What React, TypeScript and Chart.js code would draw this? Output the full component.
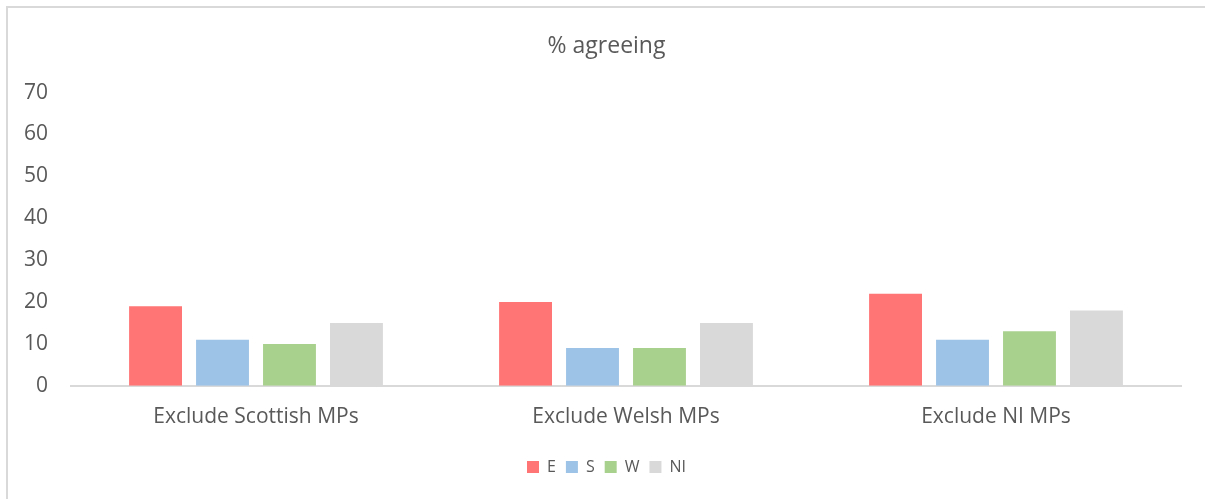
import React, { useEffect, useRef } from "react";
import { Chart, registerables } from "chart.js";

Chart.register(...registerables);

const categories = ["Exclude Scottish MPs", "Exclude Welsh MPs", "Exclude NI MPs"];
const seriesNames = ["E", "S", "W", "NI"];
const valuesE = [19, 20, 22];
const valuesS = [11, 9, 11];
const valuesW = [10, 9, 13];
const valuesNI = [15, 15, 18];
const colors = ["#FF7575", "#9DC3E6", "#A9D18E", "#D9D9D9"];
const titleText = "% agreeing";

const frame = {
  id: "frame",
  afterLayout(chart: any) {
    const y = chart.scales.y;
    if (y) {
      y.left = 0;
      y.width = y.right;
    }
  },
  beforeDraw(chart: any) {
    const { ctx, width, height } = chart;
    ctx.save();
    ctx.fillStyle = "#FFFFFF";
    ctx.fillRect(0, 0, width, height);
    ctx.fillStyle = "#D9D9D9";
    ctx.fillRect(0, 0, width, 2);
    ctx.fillRect(0, 0, 2, height);
    ctx.restore();
  },
};

export default function App() {
  const ref = useRef<HTMLCanvasElement | null>(null);
  useEffect(() => {
    if (!ref.current) return;
    const font = "'Open Sans', 'Liberation Sans', sans-serif";
    const seriesValues = [valuesE, valuesS, valuesW, valuesNI];
    const chart = new Chart(ref.current, {
      type: "bar",
      data: {
        labels: categories,
        datasets: seriesNames.map((n, i) => ({
          label: n,
          data: seriesValues[i],
          backgroundColor: colors[i],
          borderWidth: 0,
          categoryPercentage: 0.724,
          barPercentage: 0.79,
        })),
      },
      plugins: [frame],
      options: {
        animation: false,
        responsive: true,
        maintainAspectRatio: false,
        layout: { padding: { left: 26, right: 24, top: 0, bottom: 14 } },
        plugins: {
          title: {
            display: true,
            text: titleText,
            color: "#595959",
            font: { family: font, size: 23, weight: "normal" },
            padding: { top: 27, bottom: 32 },
          },
          legend: {
            position: "bottom",
            labels: {
              color: "#595959",
              font: { family: font, size: 16 },
              boxWidth: 12,
              boxHeight: 12,
              padding: 10,
            },
          },
          tooltip: { enabled: false },
        },
        scales: {
          x: {
            grid: { display: false, drawTicks: false },
            border: { display: true, color: "#D9D9D9", width: 2 },
            ticks: {
              color: "#595959",
              font: { family: font, size: 21 },
              padding: 19,
            },
          },
          y: {
            min: 0,
            max: 70,
            grid: { display: false, drawTicks: false },
            border: { display: false },
            ticks: {
              stepSize: 10,
              color: "#595959",
              font: { family: font, size: 21 },
              padding: 23,
            },
            afterFit: (s: any) => {
              s.width = 39;
            },
          },
        },
      },
    });
    return () => chart.destroy();
  }, []);
  return (
    <div
      style={{
        position: "fixed",
        left: 6,
        top: 6,
        width: 1199,
        height: 493,
      }}
    >
      <canvas ref={ref} />
    </div>
  );
}
